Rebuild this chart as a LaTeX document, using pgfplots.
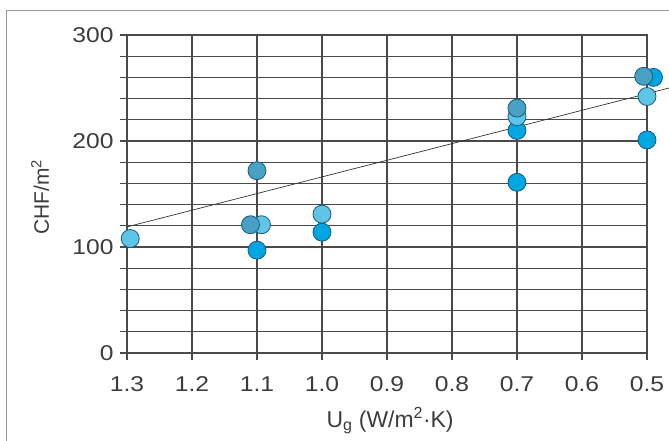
\documentclass[border=0pt]{standalone}
\usepackage{pgfplots}
\pgfplotsset{compat=1.18}
\usepackage{fontspec}
\setmainfont{Liberation Sans}
\definecolor{txt}{HTML}{3C3C3C}
\definecolor{gridc}{HTML}{4A4A4A}
\definecolor{cbright}{RGB}{0,166,226}
\definecolor{clight}{RGB}{95,197,232}
\definecolor{cteal}{RGB}{72,160,196}
\definecolor{cedge}{RGB}{25,90,120}
\begin{document}
\begin{tikzpicture}
\useasboundingbox (-127bp,-88bp) rectangle (542bp,353bp);
\draw[gray!80, line width=1bp] (-120bp,-88bp) -- (-120bp,342bp) -- (542bp,342bp);
\begin{axis}[
  at={(0,0)}, anchor=south west, scale only axis,
  width=520bp, height=318bp,
  x dir=reverse, xmin=0.5, xmax=1.3, ymin=0, ymax=300,
  xtick={0.5,0.6,0.7,0.8,0.9,1.0,1.1,1.2,1.3},
  ytick={0,100,200,300},
  minor ytick={20,40,60,80,120,140,160,180,220,240,260,280},
  grid=both,
  major grid style={gridc, line width=1.3bp},
  minor grid style={gridc, line width=1.3bp},
  axis line style={gridc, line width=1.4bp},
  tick style={gridc, line width=1.2bp},
  tick align=outside, tick pos=left,
  major tick length=7bp, minor tick length=7bp,
  clip=false,
  /pgf/number format/assume math mode=true,
  xticklabel={\scalebox{1.15}[1]{\pgfmathprintnumber[fixed,fixed zerofill,precision=1]{\tick}}},
  yticklabel={\scalebox{1.15}[1]{\pgfmathprintnumber{\tick}}},
  ticklabel style={font=\fontsize{21.5}{21.5}\selectfont, text=txt},
  yticklabel style={xshift=-3bp},
  xticklabel style={yshift=-13bp},
  ylabel={CHF/m\textsuperscript{2}},
  ylabel style={at={(axis description cs:-0.1673,0.49)}, anchor=center, rotate=0, font=\fontsize{21}{21}\selectfont, text=txt},
  xlabel={U\textsubscript{g} (W/m\textsuperscript{2}·K)},
  xlabel style={at={(axis description cs:0.506,-0.233)}, anchor=base, font=\fontsize{23}{23}\selectfont, text=txt},
]
\addplot[only marks, mark=*, mark size=9bp, mark options={fill=cbright, draw=cedge, line width=0.8bp}]
  coordinates {(1.1,97) (1.0,114) (0.7,210) (0.7,161) (0.49,260) (0.5,201)};
\addplot[only marks, mark=*, mark size=9bp, mark options={fill=clight, draw=cedge, line width=0.8bp}]
  coordinates {(1.295,108) (1.093,121) (1.0,131) (0.7,223) (0.5,242)};
\addplot[only marks, mark=*, mark size=9bp, mark options={fill=cteal, draw=cedge, line width=0.8bp}]
  coordinates {(1.11,121) (1.1,172) (0.7,231) (0.505,261)};
\addplot[black!80, line width=0.7bp] coordinates {(1.3,119) (0.466,250)};
\end{axis}
\end{tikzpicture}
\end{document}
